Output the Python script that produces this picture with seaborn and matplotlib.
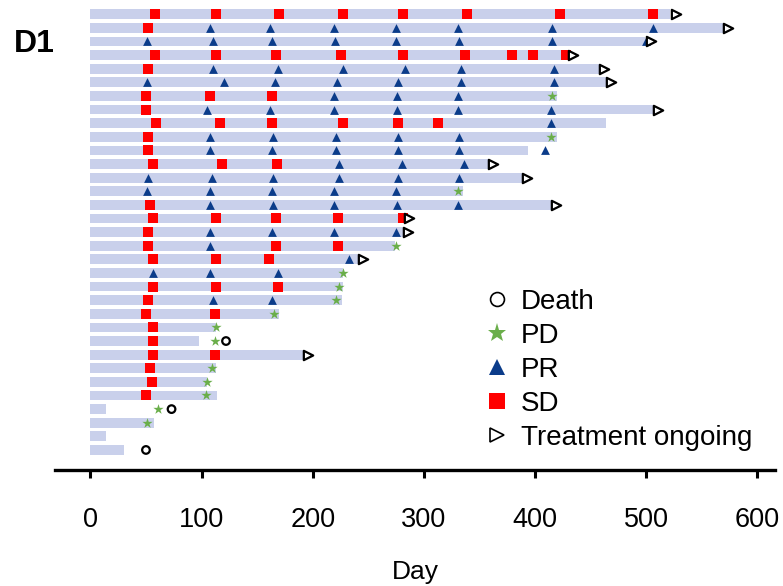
import numpy as np
import pandas as pd
import matplotlib
matplotlib.use("Agg")
import matplotlib.pyplot as plt
from matplotlib.lines import Line2D
import seaborn as sns

# one row per patient, top to bottom
bar_days = [521, 569, 499, 430, 458, 464, 420, 507, 464, 420, 394, 358, 389, 335,
            416, 283, 283, 274, 241, 227, 227, 226, 170, 113, 98, 193, 113, 105,
            114, 14, 57, 14, 30]

sd_days = [[58, 113, 170, 227, 281, 339, 422, 506], [52], [],
           [58, 113, 167, 225, 281, 337, 379, 398, 428], [52], [], [50, 108, 163],
           [50], [59, 117, 163, 227, 277, 313], [52], [52], [56, 118, 168], [], [],
           [54], [56, 113, 167, 223, 281], [52], [52, 167, 223], [56, 113, 161], [],
           [56, 113, 169], [52], [50, 112], [56], [56], [56, 112], [54], [55], [50],
           [], [], [], []]

pr_days = [[], [108, 162, 219, 275, 331, 415, 506], [51, 110, 163, 220, 275, 332, 415, 500],
           [], [110, 169, 227, 283, 333, 417], [51, 120, 166, 222, 277, 333, 417],
           [219, 276, 331], [105, 162, 219, 276, 331, 414], [414],
           [108, 164, 221, 277, 332], [108, 163, 221, 277, 332, 409], [224, 280, 336],
           [52, 109, 164, 224, 277, 332], [51, 108, 163, 219, 275],
           [108, 164, 219, 276, 331], [], [108, 163, 219, 275], [108], [233],
           [56, 108, 169], [], [110, 163], [], [], [], [], [], [], [], [], [], [], []]

pd_days = [[], [], [], [], [], [], [415], [], [], [414], [], [], [], [331], [], [], [],
           [275], [], [227], [224], [221], [165], [113], [112], [], [109], [105],
           [104], [61], [51], [], []]

death_days = [[], [], [], [], [], [], [], [], [], [], [], [], [], [], [], [], [], [],
              [], [], [], [], [], [], [122], [], [], [], [], [73], [], [], [50]]

ongoing_days = [[527], [574], [504], [434], [462], [468], [], [511], [], [], [], [362],
                [393], [], [419], [287], [286], [], [245], [], [], [], [], [], [],
                [196], [], [], [], [], [], [], []]

xticks = [0, 100, 200, 300, 400, 500, 600]

bar_color = "#C9D0EB"
sd_color = "#FF0000"
pr_color = "#0B3C8A"
pd_color = "#6AAE4A"


def flatten(per_row):
    rows, days = [], []
    for i, lst in enumerate(per_row):
        for d in lst:
            rows.append(i)
            days.append(d)
    return pd.DataFrame({"row": rows, "day": days})


def main():
    sns.set_style("white")
    plt.rcParams["font.family"] = ["Liberation Sans", "DejaVu Sans"]
    plt.rcParams["text.color"] = "black"
    plt.rcParams["xtick.color"] = "black"
    plt.rcParams["axes.labelcolor"] = "black"

    fig = plt.figure(figsize=(7.83, 5.86), dpi=100)
    ax = fig.add_axes([0.070, 0.198, 0.920, 0.793])

    bars = pd.DataFrame({"row": list(range(len(bar_days))), "day": bar_days})
    sns.barplot(data=bars, x="day", y="row", orient="h", color=bar_color,
                saturation=1, width=0.72, errorbar=None, ax=ax, linewidth=0)

    sns.scatterplot(data=flatten(sd_days), x="day", y="row", marker="s",
                    color=sd_color, s=42, linewidth=0, ax=ax, zorder=3)
    sns.scatterplot(data=flatten(pr_days), x="day", y="row", marker="^",
                    color=pr_color, s=40, linewidth=0, ax=ax, zorder=3)
    sns.scatterplot(data=flatten(pd_days), x="day", y="row", marker="*",
                    color=pd_color, s=60, linewidth=0, ax=ax, zorder=3)
    sns.scatterplot(data=flatten(death_days), x="day", y="row", marker="o",
                    facecolor="none", edgecolor="black", s=30, linewidth=1.6,
                    ax=ax, zorder=3)
    sns.scatterplot(data=flatten(ongoing_days), x="day", y="row", marker=">",
                    facecolor="white", edgecolor="black", s=45, linewidth=1.6,
                    ax=ax, zorder=3)

    n = len(bar_days)
    ax.set_xlim(-32, 616)
    ax.set_ylim(n - 1 + 1.47, -0.66)
    ax.set_xticks(xticks)
    ax.set_xticklabels([str(t) for t in xticks], fontsize=19.5)
    ax.set_yticks([])
    ax.set_ylabel("")
    ax.set_xlabel("Day", fontsize=19, labelpad=19)
    ax.tick_params(axis="x", direction="out", length=6, width=2.2, pad=21,
                   bottom=True, color="black")
    sns.despine(ax=ax, left=True, top=True, right=True)
    ax.spines["bottom"].set_linewidth(2.4)
    ax.spines["bottom"].set_color("black")

    handles = [
        Line2D([], [], ls="none", marker="o", mfc="white", mec="black", mew=1.2, ms=10),
        Line2D([], [], ls="none", marker="*", color=pd_color, mew=0, ms=14),
        Line2D([], [], ls="none", marker="^", color=pr_color, mew=0, ms=12),
        Line2D([], [], ls="none", marker="s", color=sd_color, mew=0, ms=11),
        Line2D([], [], ls="none", marker=">", mfc="white", mec="black", mew=1.2, ms=10),
    ]
    labels = ["Death", "PD", "PR", "SD", "Treatment ongoing"]
    fig.legend(handles, labels, loc="upper left", bbox_to_anchor=(0.621, 0.507),
               frameon=False, fontsize=20, handlelength=0.8, handletextpad=0.45,
               labelspacing=0.29, borderpad=0, borderaxespad=0)

    fig.text(34 / 783, 1 - 44 / 586, "D1", fontsize=23, fontweight="bold",
             ha="center", va="center")

    fig.savefig("out.png", dpi=100)


if __name__ == "__main__":
    main()
